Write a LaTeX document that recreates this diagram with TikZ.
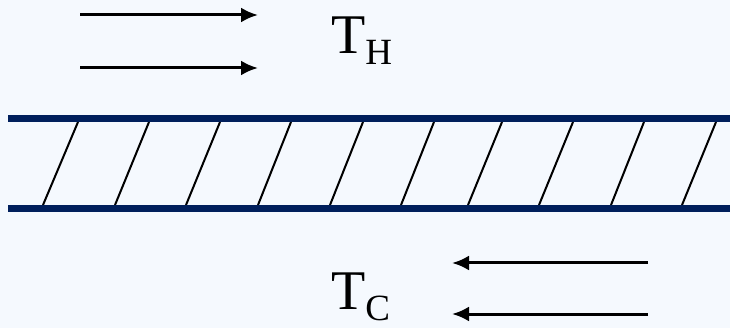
\documentclass[tikz,border=0pt]{standalone}
\usepackage{fontspec}
\setmainfont{Liberation Serif}
\usetikzlibrary{arrows.meta}
\definecolor{bg}{HTML}{F5F9FE}
\definecolor{navy}{HTML}{001F5C}
\tikzset{
  wall/.style={draw=navy, line width=7pt},
  hatch/.style={draw=black, line width=2pt},
  flow/.style={draw=black, line width=3pt, -{Latex[length=17pt,width=15pt]}},
  tlabel/.style={inner sep=0pt, anchor=base west},
}
\newcommand{\tsub}[1]{{\fontsize{56}{56}\selectfont T\raisebox{-11pt}{\fontsize{37}{37}\selectfont #1}}}
\begin{document}
\begin{tikzpicture}[x=1pt,y=-1pt]
\fill[bg] (0,0) rectangle (730,328);
\useasboundingbox (0,0) rectangle (730,328);
% walls
\coordinate (w1a) at (8,118.5);  \coordinate (w1b) at (730,118.5);
\coordinate (w2a) at (8,208.5);  \coordinate (w2b) at (730,208.5);
% hatches
\foreach \t/\b in {78/43,149/115,220/186,291/258,363/330,434/401,502/468,573/539,644/611,716/682}{
  \draw[hatch] (\t,122) -- (\b,205);
}
\draw[wall] (w1a) -- (w1b);
\draw[wall] (w2a) -- (w2b);
% hot flow
\coordinate (h1s) at (80,15);  \coordinate (h1e) at (258,15);
\coordinate (h2s) at (80,68);  \coordinate (h2e) at (258,68);
\draw[flow] (h1s) -- (h1e);
\draw[flow] (h2s) -- (h2e);
% cold flow
\coordinate (c1s) at (648,263); \coordinate (c1e) at (452,263);
\coordinate (c2s) at (648,314); \coordinate (c2e) at (452,314);
\draw[flow] (c1s) -- (c1e);
\draw[flow] (c2s) -- (c2e);
% labels
\node[tlabel] (TH) at (331,54) {\tsub{H}};
\node[tlabel] (TC) at (331,309) {\tsub{C}};
\end{tikzpicture}
\end{document}
